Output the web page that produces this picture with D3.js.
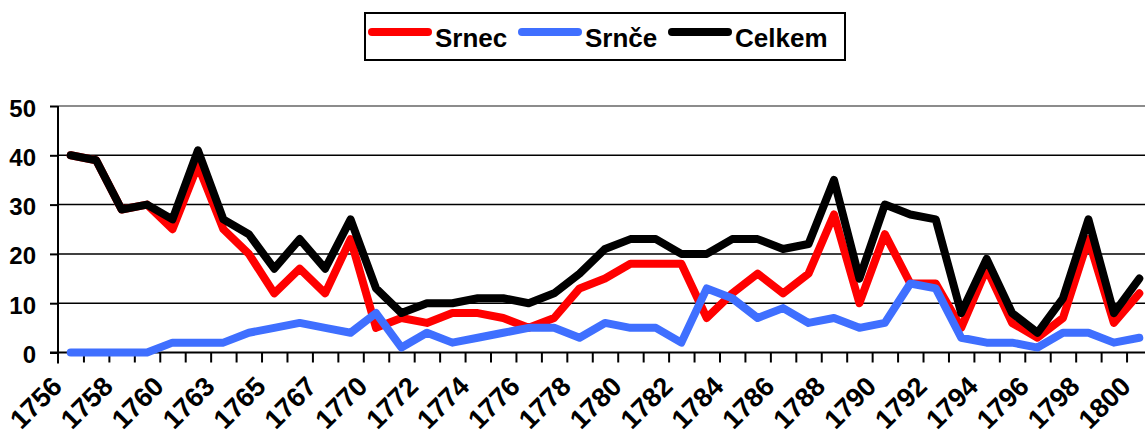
<!DOCTYPE html>
<html>
<head>
<meta charset="utf-8">
<script src="https://cdn.jsdelivr.net/npm/d3@7"></script>
<style>
    body { margin: 0; background: #fff; }
    svg { display: block; font-family: Arial, "Liberation Sans", sans-serif; font-weight: bold; }
</style>
</head>
<body>
<div id="chart"></div>
<script>
// categories (1762 and 1769 are not in the source table)
const years = [1756, 1757, 1758, 1759, 1760, 1761, 1763, 1764, 1765, 1766, 1767, 1768, 1770,
    1771, 1772, 1773, 1774, 1775, 1776, 1777, 1778, 1779, 1780, 1781, 1782, 1783, 1784,
    1785, 1786, 1787, 1788, 1789, 1790, 1791, 1792, 1793, 1794, 1795, 1796, 1797, 1798,
    1799, 1800];

const srnec = [40, 39, 29, 30, 25, 38, 25, 20, 12, 17, 12, 23, 5, 7, 6, 8, 8, 7, 5, 7, 13,
    15, 18, 18, 18, 7, 12, 16, 12, 16, 28, 10, 24, 14, 14, 5, 17, 6, 3, 7, 23, 6, 12];
const srnce = [0, 0, 0, 0, 2, 2, 2, 4, 5, 6, 5, 4, 8, 1, 4, 2, 3, 4, 5, 5, 3, 6, 5, 5, 2,
    13, 11, 7, 9, 6, 7, 5, 6, 14, 13, 3, 2, 2, 1, 4, 4, 2, 3];
const celkem = [40, 39, 29, 30, 27, 41, 27, 24, 17, 23, 17, 27, 13, 8, 10, 10, 11, 11, 10, 12,
    16, 21, 23, 23, 20, 20, 23, 23, 21, 22, 35, 15, 30, 28, 27, 8, 19, 8, 4, 11, 27, 8, 15];

const seriesNames = ["Srnec", "Srnče", "Celkem"];
const seriesColors = ["#ff0000", "#3f6fff", "#000000"];
const yTicks = [0, 10, 20, 30, 40, 50];

const width = 1145;
const height = 434;
const plot = {left: 58, right: 1152, top: 106, bottom: 352.5};

const svg = d3.select("#chart").append("svg")
    .attr("width", width)
    .attr("height", height);

const x = d3.scalePoint()
    .domain(years)
    .range([plot.left, plot.right])
    .padding(0.5);

// tick marks sit on the category boundaries
const xEdge = d3.scaleLinear()
    .domain([0, years.length])
    .range([plot.left, plot.right]);

const y = d3.scaleLinear()
    .domain([0, 50])
    .range([plot.bottom, plot.top]);

// gridlines
svg.append("g")
    .selectAll("line")
    .data(yTicks.filter(t => t > 0))
    .join("line")
    .attr("x1", plot.left)
    .attr("x2", plot.right)
    .attr("y1", d => y(d))
    .attr("y2", d => y(d))
    .attr("stroke", d => d === 50 ? "#8c8c8c" : "#000")
    .attr("stroke-width", d => d === 50 ? 2 : 1.5);

// y axis
const yAxis = svg.append("g")
    .attr("transform", "translate(" + plot.left + ",0)")
    .call(d3.axisLeft(y).tickValues(yTicks).tickSize(8).tickPadding(14));
yAxis.select(".domain").remove();
yAxis.append("line")
    .attr("y1", y(50))
    .attr("y2", plot.bottom + 11)
    .attr("stroke", "#000")
    .attr("stroke-width", 2);
yAxis.selectAll(".tick line").attr("stroke-width", 2);
yAxis.selectAll(".tick text")
    .attr("font-size", 24)
    .attr("font-weight", "bold")
    .attr("fill", "#000")
    .attr("dy", "0.42em");

// x axis
const xAxis = svg.append("g")
    .attr("transform", "translate(0," + plot.bottom + ")")
    .call(d3.axisBottom(xEdge).tickValues(d3.range(1, years.length + 1)).tickSize(10).tickFormat(""));
xAxis.select(".domain").remove();
xAxis.append("line")
    .attr("x1", plot.left - 8)
    .attr("x2", plot.right)
    .attr("stroke", "#000")
    .attr("stroke-width", 2);
xAxis.selectAll(".tick line").attr("stroke-width", 2);

svg.append("g")
    .selectAll("text")
    .data(years.filter((d, i) => i % 2 === 0))
    .join("text")
    .attr("transform", d => "translate(" + (x(d) - 7) + ",388) rotate(-45)")
    .attr("text-anchor", "end")
    .attr("font-size", 27)
    .attr("fill", "#000")
    .text(d => d);

// series lines
const line = d3.line()
    .x((d, i) => x(years[i]))
    .y(d => y(d));

svg.append("g")
    .selectAll("path")
    .data([srnec, srnce, celkem])
    .join("path")
    .attr("d", line)
    .attr("fill", "none")
    .attr("stroke", (d, i) => seriesColors[i])
    .attr("stroke-width", 8)
    .attr("stroke-linejoin", "round")
    .attr("stroke-linecap", "round");

// legend
const legend = svg.append("g");
legend.append("rect")
    .attr("x", 365)
    .attr("y", 13)
    .attr("width", 480)
    .attr("height", 47)
    .attr("fill", "#fff")
    .attr("stroke", "#000")
    .attr("stroke-width", 2);

const legendX = [372, 522, 672];
const item = legend.selectAll("g")
    .data(seriesNames)
    .join("g")
    .attr("transform", (d, i) => "translate(" + legendX[i] + ",0)");
item.append("line")
    .attr("x1", 0)
    .attr("x2", 56)
    .attr("y1", 32)
    .attr("y2", 32)
    .attr("stroke", (d, i) => seriesColors[i])
    .attr("stroke-width", 8)
    .attr("stroke-linecap", "round");
item.append("text")
    .attr("x", 63)
    .attr("y", 46.5)
    .attr("font-size", 26)
    .attr("fill", "#000")
    .text(d => d);
</script>
</body>
</html>
